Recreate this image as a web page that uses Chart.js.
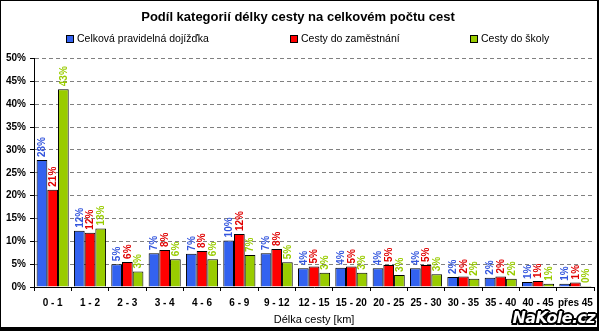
<!DOCTYPE html>
<html><head><meta charset="utf-8">
<script src="https://cdn.jsdelivr.net/npm/chart.js@4"></script>
<style>
html,body{margin:0;padding:0;background:#fff;}
#wrap{position:relative;width:599px;height:331px;overflow:hidden;}
canvas{display:block;}
#frame{position:absolute;left:0;top:0;width:599px;height:331px;box-sizing:border-box;border:1px solid #000;border-right:2px solid #000;border-bottom:4px solid #000;pointer-events:none;}
#wm{position:absolute;right:4px;bottom:4px;font:italic bold 16px "DejaVu Sans",sans-serif;color:#fff;letter-spacing:-0.6px;
text-shadow:-1.5px -1.5px 0 #000,1.5px -1.5px 0 #000,-1.5px 1.5px 0 #000,1.5px 1.5px 0 #000,0 2px 0 #000,2px 0 0 #000,-2px 0 0 #000,0 -2px 0 #000;}
</style></head>
<body>
<div id="wrap"><canvas id="c" width="599" height="331"></canvas><div id="frame"></div><div id="wm">NaKole.cz</div></div>
<script>
const categories = ["0 - 1","1 - 2","2 - 3","3 - 4","4 - 6","6 - 9","9 - 12","12 - 15","15 - 20","20 - 25","25 - 30","30 - 35","35 - 40","40 - 45","přes 45"];
const seriesNames = ["Celková pravidelná dojížďka","Cesty do zaměstnání","Cesty do školy"];
const celkova = [27.8, 12.3, 5.0, 7.4, 7.3, 10.2, 7.4, 4.1, 4.2, 4.1, 4.1, 2.2, 2.0, 1.1, 0.7];
const zamestnani = [21.3, 11.9, 5.5, 8.1, 7.9, 11.6, 8.3, 4.5, 4.5, 4.8, 4.8, 2.3, 2.3, 1.3, 1.0];
const skola = [43.3, 12.8, 3.4, 6.1, 6.1, 7.0, 5.4, 3.1, 3.1, 2.6, 2.8, 1.8, 1.8, 0.7, 0.2];
const yTicks = [0,5,10,15,20,25,30,35,40,45,50];

const barColors = ["#3362f0","#ff0000","#99cc00"];
const labelColors = ["#3355dd","#e00000","#99cc00"];
const FONT = '"Liberation Sans", Arial, sans-serif';
Chart.defaults.font.family = FONT;
Chart.defaults.color = "#000";

const barLabels = {
  id: "barLabels",
  afterDatasetsDraw(chart) {
    const ctx = chart.ctx;
    chart.data.datasets.forEach((ds, i) => {
      const meta = chart.getDatasetMeta(i);
      meta.data.forEach((bar, j) => {
        ctx.save();
        ctx.translate(bar.x + 0.5, bar.y - 3);
        ctx.rotate(-Math.PI / 2);
        ctx.fillStyle = labelColors[i];
        ctx.font = "bold 10px " + FONT;
        ctx.textAlign = "left";
        ctx.textBaseline = "middle";
        ctx.fillText(Math.round(ds.data[j]) + "%", 0, 0);
        ctx.restore();
      });
    });
  }
};

const legendStarts = [66, 290, 470];
const customLegend = {
  id: "customLegend",
  afterDraw(chart) {
    const ctx = chart.ctx;
    const y = 39;
    chart.data.datasets.forEach((ds, i) => {
      const x = legendStarts[i];
      ctx.save();
      ctx.fillStyle = ds.backgroundColor;
      ctx.fillRect(x, y - 4, 8, 8);
      ctx.strokeStyle = "#000";
      ctx.lineWidth = 1;
      ctx.strokeRect(x + 0.5, y - 3.5, 7, 7);
      ctx.fillStyle = "#000";
      ctx.font = "10.5px " + FONT;
      ctx.textBaseline = "middle";
      ctx.textAlign = "left";
      ctx.fillText(ds.label, x + 11, y + 0.5);
      ctx.restore();
    });
  }
};

new Chart(document.getElementById("c"), {
  type: "bar",
  data: {
    labels: categories,
    datasets: [
      {label: seriesNames[0], data: celkova, backgroundColor: barColors[0], borderColor: "#000", borderWidth: 1},
      {label: seriesNames[1], data: zamestnani, backgroundColor: barColors[1], borderColor: "#000", borderWidth: 1},
      {label: seriesNames[2], data: skola, backgroundColor: barColors[2], borderColor: "#000", borderWidth: 1}
    ]
  },
  options: {
    responsive: false,
    animation: false,
    layout: {padding: {left: 0, right: 3, top: 0, bottom: 0}},
    datasets: {bar: {categoryPercentage: 0.86, barPercentage: 1}},
    plugins: {
      legend: {display: false},
      tooltip: {enabled: false},
      title: {
        display: true,
        text: "Podíl kategorií délky cesty na celkovém počtu cest",
        font: {size: 13, weight: "bold"},
        color: "#000",
        padding: {top: 10, bottom: 33}
      }
    },
    scales: {
      x: {
        afterFit: s => { s.height = 44; },
        grid: {display: true, offset: true, drawOnChartArea: false, drawTicks: true, tickLength: 4, color: "#000"},
        border: {display: true, color: "#000", width: 1},
        ticks: {font: {size: 10, weight: "bold"}, color: "#000", padding: 6, maxRotation: 0, autoSkip: false},
        title: {display: true, text: "Délka cesty [km]", font: {size: 11}, color: "#000", padding: {top: 0, bottom: 4}}
      },
      y: {
        min: 0, max: 50,
        afterFit: s => { s.width = 34; },
        afterBuildTicks: s => { s.ticks = yTicks.map(v => ({value: v})); },
        grid: {color: "#808080", lineWidth: 1, drawTicks: true, tickLength: 4, tickColor: "#000", borderDash: [4, 3], tickBorderDash: []},
        border: {display: true, color: "#000", width: 1, dash: [4, 3]},
        ticks: {font: {size: 10, weight: "bold"}, color: "#000", padding: 4, callback: v => v + "%"}
      }
    }
  },
  plugins: [barLabels, customLegend]
});
</script>
</body></html>
